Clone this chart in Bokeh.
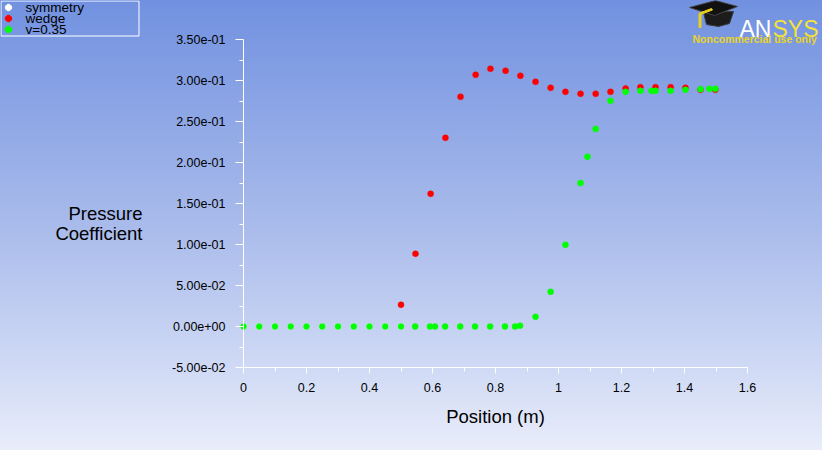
import math
from bokeh.plotting import figure
from bokeh.models import (Range1d, FixedTicker, CustomJSTickFormatter, Label, PolyAnnotation)
from bokeh.embed import file_html
from bokeh.resources import INLINE

# ---------------- data ----------------
series_names = ["symmetry", "wedge", "v=0.35"]
series_colors = ["#ffffff", "#ff0000", "#00ff00"]

symmetry_x = [0.0, 0.05, 0.1, 0.15, 0.2, 0.25, 0.3, 0.35, 0.4, 0.45, 0.5]
symmetry_y = [0.0, 0.0, 0.0, 0.0, 0.0, 0.0, 0.0, 0.0, 0.0, 0.0, 0.0]

wedge_x = [0.5, 0.546, 0.594, 0.641, 0.689, 0.737, 0.784, 0.832, 0.879, 0.927,
           0.975, 1.022, 1.070, 1.118, 1.165, 1.213, 1.260, 1.308, 1.356, 1.403,
           1.451, 1.498]
wedge_y = [0.0265, 0.0887, 0.1618, 0.2301, 0.2801, 0.3070, 0.3143, 0.3118, 0.3057, 0.2984,
           0.2911, 0.2862, 0.2838, 0.2838, 0.2862, 0.2902, 0.2919, 0.2919, 0.2919, 0.2911,
           0.2887, 0.2887]

v035_x = [0.0, 0.05, 0.1, 0.15, 0.2, 0.25, 0.3, 0.35, 0.4, 0.45,
          0.5, 0.545, 0.592, 0.608, 0.640, 0.688, 0.735, 0.783, 0.830, 0.862,
          0.878, 0.927, 0.975, 1.022, 1.070, 1.092, 1.118, 1.165, 1.213, 1.260,
          1.295, 1.308, 1.356, 1.403, 1.451, 1.479, 1.498]
v035_y = [0.0, 0.0, 0.0, 0.0, 0.0, 0.0, 0.0, 0.0, 0.0, 0.0,
          0.0, 0.0, 0.0, 0.0, 0.0, 0.0, 0.0, 0.0, 0.0, 0.0,
          0.001, 0.0118, 0.0423, 0.0996, 0.175, 0.207, 0.241, 0.2752, 0.2862, 0.2874,
          0.2874, 0.2874, 0.2874, 0.2887, 0.2894, 0.2898, 0.2898]

x_ticks = [0.0, 0.2, 0.4, 0.6, 0.8, 1.0, 1.2, 1.4, 1.6]
x_minor_ticks = [0.1, 0.3, 0.5, 0.7, 0.9, 1.1, 1.3, 1.5]
y_ticks = [-0.05, 0.0, 0.05, 0.10, 0.15, 0.20, 0.25, 0.30, 0.35]
y_minor_ticks = [-0.025, 0.025, 0.075, 0.125, 0.175, 0.225, 0.275, 0.325]

x_title = "Position (m)"
y_title_lines = ["Pressure", "Coefficient"]

FONT = "Liberation Sans"

# ---------------- layout geometry (pixels inside the figure) ----------------
W, H = 822, 450
AX_LEFT, AX_RIGHT = 243, 747      # pixel span of x = 0 .. 1.6
AX_TOP, AX_BOTTOM = 39, 367       # pixel span of y = 0.35 .. -0.05
x0, x1 = x_ticks[0], x_ticks[-1]
y0, y1 = y_ticks[0], y_ticks[-1]
sx = (AX_RIGHT - AX_LEFT) / (x1 - x0)
sy = (AX_BOTTOM - AX_TOP) / (y1 - y0)
xr = Range1d(x0 - AX_LEFT / sx, x1 + (W - AX_RIGHT) / sx)
yr = Range1d(y0 - (H - AX_BOTTOM) / sy, y1 + AX_TOP / sy)

p = figure(width=W, height=H, output_backend="svg", toolbar_location=None,
           x_range=xr, y_range=yr,
           min_border_left=0, min_border_right=0, min_border_top=0, min_border_bottom=0)

p.styles = {"background": "linear-gradient(180deg, rgb(113,145,224) 0%, rgb(169,187,235) 50%, "
                          "rgb(208,218,245) 82%, rgb(233,237,250) 100%)"}
p.background_fill_alpha = 0
p.border_fill_alpha = 0
p.outline_line_color = None
p.xgrid.visible = False
p.ygrid.visible = False

for xs_, ys_, col in zip([symmetry_x, wedge_x, v035_x], [symmetry_y, wedge_y, v035_y], series_colors):
    p.scatter(xs_, ys_, size=6, fill_color=col, line_color=col, line_width=0.5)

# axes (fixed inside the plotting area)
for ax in (p.xaxis[0], p.yaxis[0]):
    ax.axis_line_color = "white"
    ax.major_tick_line_color = "white"
    ax.minor_tick_line_color = "white"
    ax.major_tick_in = 0
    ax.minor_tick_in = 0
    ax.minor_tick_out = 4
    ax.major_label_text_color = "black"
    ax.major_label_text_font = FONT
    ax.major_label_text_font_size = "12.5px"

xa = p.xaxis[0]
xa.fixed_location = y0
xa.bounds = (x0, x1)
xa.ticker = FixedTicker(ticks=x_ticks, minor_ticks=x_minor_ticks)
xa.formatter = CustomJSTickFormatter(code="return String(Math.round(tick*10)/10);")
xa.major_tick_out = 6
xa.major_label_standoff = 9
xa.axis_label = x_title
xa.axis_label_text_font = FONT
xa.axis_label_text_font_size = "18.5px"
xa.axis_label_text_font_style = "normal"
xa.axis_label_text_color = "black"
xa.axis_label_standoff = 11

ya = p.yaxis[0]
ya.fixed_location = x0
ya.bounds = (y0, y1)
ya.ticker = FixedTicker(ticks=y_ticks, minor_ticks=y_minor_ticks)
ya.formatter = CustomJSTickFormatter(code="""
const s = tick.toExponential(2);
const parts = s.split('e');
const e = parts[1];
return parts[0] + 'e' + e[0] + e.slice(1).padStart(2, '0');
""")
ya.major_tick_out = 8
ya.major_label_standoff = 10

# y title (horizontal, two lines, right aligned); screen units from figure bottom-left
for txt, yy in zip(y_title_lines, [237, 217]):
    p.add_layout(Label(x=142, y=yy, x_units="screen", y_units="screen", text=txt,
                       text_align="right", text_baseline="alphabetic",
                       text_font=FONT, text_font_size="18.5px", text_color="black"))

# ---------------- legend box (top-left), figure pixels from top-left ----------------
def poly_tl(pts, fill, line=None, fill_alpha=1.0):
    p.add_layout(PolyAnnotation(xs=[a for a, b in pts], ys=[H - b for a, b in pts],
                                xs_units="screen", ys_units="screen",
                                fill_color=fill, fill_alpha=fill_alpha,
                                line_color=line if line else fill, line_alpha=1, line_width=1))

LEG_L, LEG_T, LEG_R, LEG_B = 0.5, 0.5, 138.5, 35.5
poly_tl([(LEG_L, LEG_T), (LEG_R, LEG_T), (LEG_R, LEG_B), (LEG_L, LEG_B)], None, "white", 0)
for i, (name, col) in enumerate(zip(series_names, series_colors)):
    cy = 7 + 11 * i
    dot = [(8 + 3.2 * math.cos(k * math.pi / 6), cy + 3.2 * math.sin(k * math.pi / 6)) for k in range(12)]
    poly_tl(dot, col)
    p.add_layout(Label(x=25, y=H - cy, x_units="screen", y_units="screen", text=name,
                       text_align="left", text_baseline="middle",
                       text_font=FONT, text_font_size="13.5px", text_color="black"))

# ---------------- ANSYS logo (decorative) ----------------
LOGO_DX, LOGO_DY = -11, 7

def P(px, py):
    return px - 8 + LOGO_DX, H - (py - 8 + LOGO_DY)

def poly(points, fill, line=None):
    xs = [P(a, b)[0] for a, b in points]
    ys = [P(a, b)[1] for a, b in points]
    p.add_layout(PolyAnnotation(xs=xs, ys=ys, xs_units="screen", ys_units="screen",
                                fill_color=fill, fill_alpha=1,
                                line_color=line if line else fill, line_alpha=1, line_width=1))

poly([(722, 13), (752, 12), (748, 24), (737, 27), (725, 25)], "#1c1c1c", "#3a3a3a")
poly([(708, 8), (734, 1), (756, 7), (733, 16)], "#111111", "#444444")
poly([(730, 9), (731, 10.5), (719, 15), (718, 13.5)], "#e8d020")
poly([(717.5, 14), (719.5, 14), (719.5, 28), (717.5, 28)], "#e8d020")

ax0, ay0 = P(758, 29)
p.add_layout(Label(x=ax0, y=ay0, x_units="screen", y_units="screen", text="AN",
                   text_font=FONT, text_font_size="23px", text_color="white",
                   text_baseline="alphabetic"))
sx0, sy0 = P(791, 29)
p.add_layout(Label(x=sx0, y=sy0, x_units="screen", y_units="screen", text="SYS",
                   text_font=FONT, text_font_size="23px", text_color="#f2e23c",
                   text_baseline="alphabetic"))
nx0, ny0 = P(711, 39)
p.add_layout(Label(x=nx0, y=ny0, x_units="screen", y_units="screen", text="Noncommercial use only",
                   text_font=FONT, text_font_size="10.5px", text_font_style="bold",
                   text_color="#e8d428", text_baseline="alphabetic"))

open("out.html", "w").write(file_html(p, INLINE))
